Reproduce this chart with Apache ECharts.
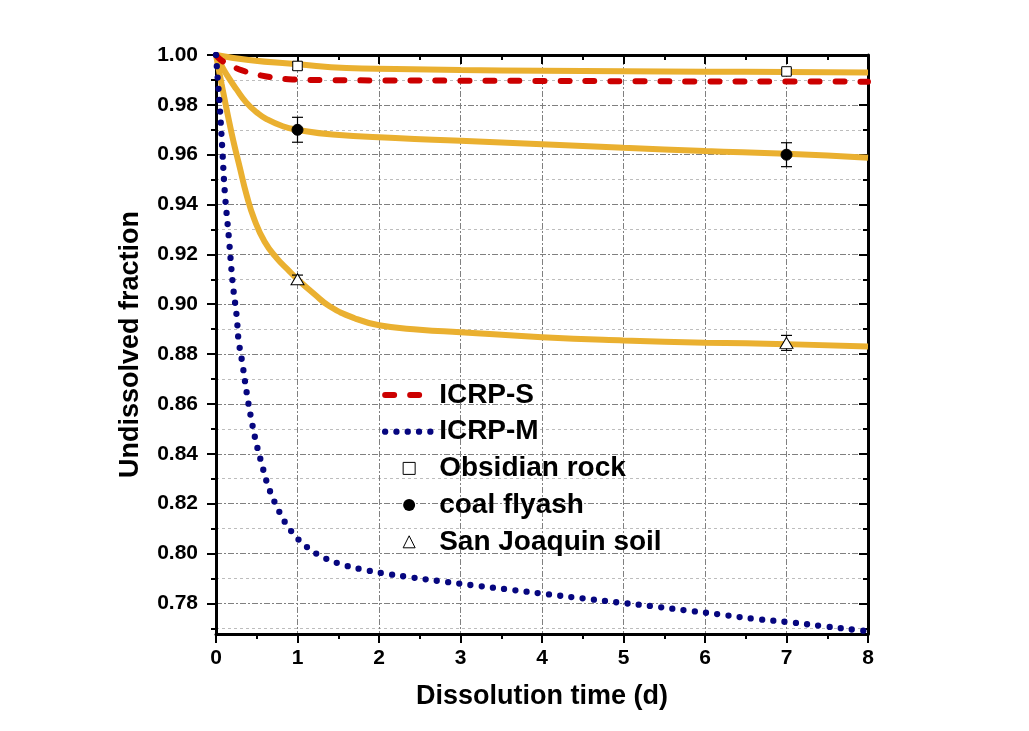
<!DOCTYPE html>
<html><head><meta charset="utf-8">
<script src="https://cdn.jsdelivr.net/npm/echarts@6/dist/echarts.min.js"></script>
<style>html,body{margin:0;padding:0;background:#fff}#c{width:1029px;height:731px}</style>
</head><body><div id="c"></div><script>
// ---- data ----
const xTicks = [0, 1, 2, 3, 4, 5, 6, 7, 8];
const yMajorTicks = [0.78, 0.80, 0.82, 0.84, 0.86, 0.88, 0.90, 0.92, 0.94, 0.96, 0.98, 1.00];
const yMinorTicks = [0.77, 0.79, 0.81, 0.83, 0.85, 0.87, 0.89, 0.91, 0.93, 0.95, 0.97, 0.99];
const yMin = 0.7677, yMax = 1.0;

const icrpSX = [0, 0.06, 0.15, 0.33, 0.62, 0.94, 1.4, 2, 3, 4, 5, 6, 7, 8];
const icrpSY = [1.0, 0.998, 0.9964, 0.9937, 0.9914, 0.9902, 0.9899, 0.9898, 0.9897, 0.9896, 0.9895, 0.9894, 0.9894, 0.9893];

const icrpMX = [0, 0.02, 0.043, 0.076, 0.108, 0.157, 0.206, 0.255, 0.276, 0.322, 0.383, 0.432, 0.489, 0.559, 0.636, 0.743, 0.878, 1.058, 1.295, 1.565, 1.84, 2.122, 2.4, 2.818, 3.24, 3.656, 4.079, 4.5, 4.92, 5.34, 5.76, 6.17, 6.6, 7.01, 7.44, 7.86, 8];
const icrpMY = [1.0, 0.991, 0.981, 0.963, 0.945, 0.927, 0.9082, 0.8948, 0.8858, 0.8766, 0.8632, 0.8541, 0.845, 0.8362, 0.8274, 0.819, 0.811, 0.8042, 0.7988, 0.7954, 0.7933, 0.7917, 0.7904, 0.7886, 0.7869, 0.7853, 0.7836, 0.782, 0.7804, 0.7789, 0.7772, 0.7756, 0.7738, 0.7725, 0.7709, 0.7693, 0.7689];

const obsFitX = [0, 0.4, 1.0, 1.6, 2.2, 3, 4, 5, 6, 7, 8];
const obsFitY = [1.0, 0.998, 0.9963, 0.9948, 0.9944, 0.9940, 0.9937, 0.9935, 0.9933, 0.9932, 0.9930];

const coalFitX = [0, 0.06, 0.125, 0.25, 0.37, 0.5, 0.62, 0.82, 1.0, 1.43, 2.2, 3, 4, 5, 6, 7, 8];
const coalFitY = [1.0, 0.9962, 0.9924, 0.9863, 0.981, 0.977, 0.9743, 0.9714, 0.970, 0.9681, 0.9667, 0.9656, 0.9642, 0.9628, 0.9615, 0.9604, 0.9588];

const sjFitX = [0, 0.0675, 0.141, 0.215, 0.289, 0.374, 0.473, 0.595, 0.742, 0.902, 1.0, 1.209, 1.393, 1.70, 2.0, 2.5, 3, 4, 5, 6, 7, 8];
const sjFitY = [1.0, 0.9885, 0.9765, 0.9652, 0.9553, 0.944, 0.9338, 0.9252, 0.9186, 0.9132, 0.910, 0.904, 0.8992, 0.8944, 0.8916, 0.8898, 0.8888, 0.8868, 0.8855, 0.8846, 0.884, 0.883];

const markX = [1, 7];
const obsMark = [0.9956, 0.9934];
const obsErr = [0.0015, 0.0012];
const coalMark = [0.970, 0.960];
const coalErr = [0.005, 0.0048];
const sjMark = [0.910, 0.8845];
const sjErr = [0.0017, 0.003];

const legendNames = ['ICRP-S', 'ICRP-M', 'Obsidian rock', 'coal flyash', 'San Joaquin soil'];
const xTitle = 'Dissolution time (d)';
const yTitle = 'Undissolved fraction';

// ---- helpers ----
const zip = (xs, ys) => xs.map((x, i) => [x, ys[i]]);
const FONT = 'Liberation Sans, Arial, sans-serif';
const ORANGE = '#EAB030', RED = '#CC0000', BLUE = '#06067F';

function fitSeries(xs, ys) {
  return { type: 'line', data: zip(xs, ys), symbol: 'none', smooth: 0.5,
    lineStyle: { color: ORANGE, width: 6 }, z: 2, silent: true };
}
function errSeries(xs, ys, es) {
  return {
    type: 'custom', data: xs.map((x, i) => [x, ys[i] - es[i], ys[i] + es[i]]), z: 4, silent: true,
    renderItem(params, api) {
      const lo = api.coord([api.value(0), api.value(1)]);
      const hi = api.coord([api.value(0), api.value(2)]);
      const w = 5.5, st = { stroke: '#000', lineWidth: 1.2 };
      return { type: 'group', children: [
        { type: 'line', shape: { x1: lo[0], y1: lo[1], x2: hi[0], y2: hi[1] }, style: st },
        { type: 'line', shape: { x1: lo[0] - w, y1: lo[1], x2: lo[0] + w, y2: lo[1] }, style: st },
        { type: 'line', shape: { x1: hi[0] - w, y1: hi[1], x2: hi[0] + w, y2: hi[1] }, style: st }
      ] };
    }
  };
}
function markSeries(name, ys, symbol, size, fill) {
  return { name, type: 'line', data: zip(markX, ys), symbol, symbolSize: size, showSymbol: true,
    lineStyle: { width: 0, opacity: 0 }, itemStyle: { color: fill, borderColor: '#000', borderWidth: 1 }, z: 5 };
}

const axisLineSt = { show: true, lineStyle: { color: '#000', width: 3 } };
const tickSt = { color: '#000', width: 2 };
const labelSt = { color: '#000', fontSize: 21, fontWeight: 'bold', fontFamily: FONT };
const nameSt = { color: '#000', fontSize: 27, fontWeight: 'bold', fontFamily: FONT };

const option = {
  animation: false,
  backgroundColor: '#fff',
  grid: { left: 216, top: 55, width: 652, height: 579, containLabel: false },
  xAxis: [
    { type: 'value', position: 'bottom', min: xTicks[0], max: xTicks[xTicks.length - 1], interval: 1,
      axisLine: axisLineSt, axisTick: { length: 9, lineStyle: tickSt },
      minorTick: { show: true, splitNumber: 2, length: 5, lineStyle: tickSt },
      axisLabel: Object.assign({ margin: 14 }, labelSt),
      splitLine: { show: true, lineStyle: { color: '#808080', width: 1, type: [6, 2, 2, 2] } },
      name: xTitle, nameLocation: 'middle', nameGap: 49, nameTextStyle: nameSt },
    { type: 'value', position: 'top', min: xTicks[0], max: xTicks[xTicks.length - 1], interval: 1,
      axisLine: axisLineSt, axisTick: { inside: true, length: 9, lineStyle: tickSt },
      minorTick: { show: true, splitNumber: 2, length: 5, lineStyle: tickSt },
      axisLabel: { show: false }, splitLine: { show: false } }
  ],
  yAxis: [
    { type: 'value', position: 'left', min: yMin, max: yMax,
      axisLine: axisLineSt, axisTick: { length: 9, lineStyle: tickSt, customValues: yMajorTicks },
      axisLabel: Object.assign({ margin: 18, customValues: yMajorTicks, formatter: v => v.toFixed(2) }, labelSt),
      splitLine: { show: true, lineStyle: { color: '#808080', width: 1, type: [6, 2, 2, 2] } },
      name: yTitle, nameLocation: 'middle', nameGap: 72, nameRotate: 90, nameTextStyle: nameSt },
    { type: 'value', position: 'left', min: yMin, max: yMax,
      axisLine: { show: false }, axisTick: { length: 5, lineStyle: tickSt, customValues: yMinorTicks },
      axisLabel: { show: false, customValues: yMinorTicks },
      splitLine: { show: true, lineStyle: { color: '#bdbdbd', width: 1, type: [3, 3] } } },
    { type: 'value', position: 'right', min: yMin, max: yMax,
      axisLine: axisLineSt, axisTick: { inside: true, length: 9, lineStyle: tickSt, customValues: yMajorTicks },
      axisLabel: { show: false, customValues: yMajorTicks }, splitLine: { show: false } },
    { type: 'value', position: 'right', min: yMin, max: yMax,
      axisLine: { show: false }, axisTick: { inside: true, length: 5, lineStyle: tickSt, customValues: yMinorTicks },
      axisLabel: { show: false, customValues: yMinorTicks }, splitLine: { show: false } }
  ],
  legend: {
    orient: 'vertical', left: 382, top: 381, padding: 0, itemGap: 8.7, itemWidth: 48, itemHeight: 15,
    selectedMode: false,
    textStyle: { color: '#000', fontSize: 28, fontWeight: 'bold', fontFamily: FONT, padding: [0, 0, 0, 1] },
    data: [
      { name: legendNames[0], itemStyle: { opacity: 0 }, lineStyle: { width: 6 } },
      { name: legendNames[1], itemStyle: { opacity: 0 }, lineStyle: { width: 6.3 } },
      { name: legendNames[2], itemStyle: { borderWidth: 1, borderColor: '#000' }, lineStyle: { width: 0 } },
      { name: legendNames[3], itemStyle: { borderWidth: 0 }, lineStyle: { width: 0 } },
      { name: legendNames[4], itemStyle: { borderWidth: 1, borderColor: '#000' }, lineStyle: { width: 0 } }
    ]
  },
  series: [
    fitSeries(obsFitX, obsFitY),
    fitSeries(coalFitX, coalFitY),
    fitSeries(sjFitX, sjFitY),
    { name: legendNames[0], type: 'line', data: zip(icrpSX, icrpSY), symbol: 'none', smooth: 0.5,
      lineStyle: { color: RED, width: 6, type: [9, 16], cap: 'round' }, itemStyle: { color: RED }, z: 3 },
    { name: legendNames[1], type: 'line', data: zip(icrpMX, icrpMY), symbol: 'none', smooth: 0.4,
      lineStyle: { color: BLUE, width: 6.3, type: [0, 11.3], cap: 'round' }, itemStyle: { color: BLUE }, z: 3 },
    errSeries(markX, obsMark, obsErr),
    errSeries(markX, coalMark, coalErr),
    errSeries(markX, sjMark, sjErr),
    markSeries(legendNames[2], obsMark, 'rect', 9.5, '#fff'),
    markSeries(legendNames[3], coalMark, 'circle', 11, '#000'),
    markSeries(legendNames[4], sjMark, 'triangle', [13, 11], '#fff')
  ]
};
const chart = echarts.init(document.getElementById('c'), null, { renderer: 'canvas' });
chart.setOption(option);
</script></body></html>
